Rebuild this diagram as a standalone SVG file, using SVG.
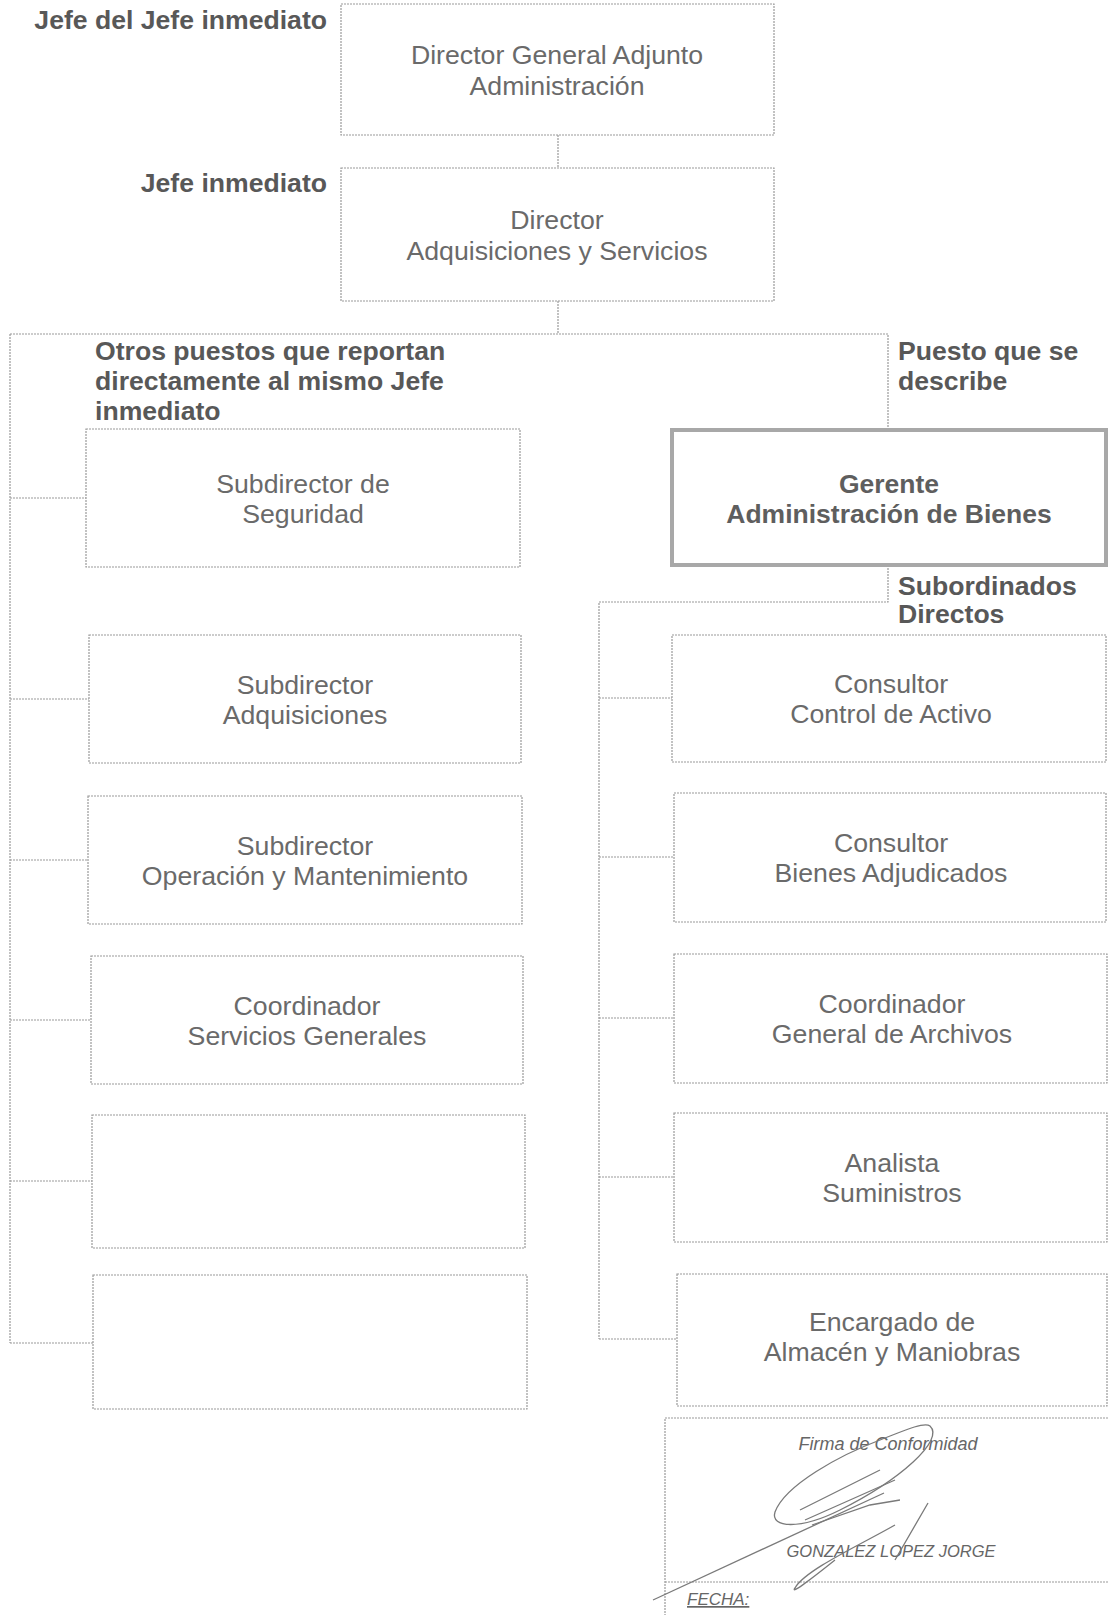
<svg xmlns="http://www.w3.org/2000/svg" width="1109" height="1615" viewBox="0 0 1109 1615">
<style>
.bx{fill:#fff;stroke:#9a9a9a;stroke-width:1.2;stroke-dasharray:2 1}
.bxm{fill:#fff;stroke:#a8a8a8;stroke-width:4}
.t{font-family:"Liberation Sans",Arial,sans-serif;font-size:26.7px;fill:#6a6a6a;text-anchor:middle}
.tb{font-family:"Liberation Sans",Arial,sans-serif;font-size:26.5px;font-weight:bold;fill:#5e5e5e;text-anchor:middle}
.lb{font-family:"Liberation Sans",Arial,sans-serif;font-size:26.6px;font-weight:bold;fill:#585858}
.cn{fill:none;stroke:#9a9a9a;stroke-width:1.2;stroke-dasharray:2 1}
.sg{fill:none;stroke:#7a7a7a;stroke-width:1.3}
.si{font-family:"Liberation Sans",Arial,sans-serif;font-style:italic;fill:#666}
</style>
<rect width="1109" height="1615" fill="#fff"/>

<g id="connectors">
<line class="cn" x1="558" y1="135" x2="558" y2="168"/>
<line class="cn" x1="558" y1="301" x2="558" y2="334"/>
<polyline class="cn" points="10,334 888,334 888,430"/>
<line class="cn" x1="10" y1="334" x2="10" y2="1343"/>
<line class="cn" x1="10" y1="498" x2="86" y2="498"/>
<line class="cn" x1="10" y1="699" x2="89" y2="699"/>
<line class="cn" x1="10" y1="860" x2="89" y2="860"/>
<line class="cn" x1="10" y1="1020" x2="91" y2="1020"/>
<line class="cn" x1="10" y1="1181" x2="92" y2="1181"/>
<line class="cn" x1="10" y1="1343" x2="93" y2="1343"/>
<polyline class="cn" points="888,565 888,602 599,602 599,1339"/>
<line class="cn" x1="599" y1="698" x2="672" y2="698"/>
<line class="cn" x1="599" y1="857" x2="674" y2="857"/>
<line class="cn" x1="599" y1="1018" x2="674" y2="1018"/>
<line class="cn" x1="599" y1="1177" x2="674" y2="1177"/>
<line class="cn" x1="599" y1="1339" x2="677" y2="1339"/>
</g>

<text class="lb" x="327" y="29" text-anchor="end">Jefe del Jefe inmediato</text>
<text class="lb" x="327" y="192" text-anchor="end">Jefe inmediato</text>
<text class="lb" x="95" y="360">Otros puestos que reportan</text>
<text class="lb" x="95" y="390">directamente al mismo Jefe</text>
<text class="lb" x="95" y="420">inmediato</text>
<text class="lb" x="898" y="360">Puesto que se</text>
<text class="lb" x="898" y="390">describe</text>
<text class="lb" x="898" y="595">Subordinados</text>
<text class="lb" x="898" y="623">Directos</text>

<g id="n-dga">
<rect class="bx" x="341" y="4" width="433" height="131"/>
<text class="t" x="557" y="64">Director General Adjunto</text>
<text class="t" x="557" y="95">Administración</text>
</g>
<g id="n-dir">
<rect class="bx" x="341" y="168" width="433" height="133"/>
<text class="t" x="557" y="229">Director</text>
<text class="t" x="557" y="260">Adquisiciones y Servicios</text>
</g>

<g id="n-l1">
<rect class="bx" x="86" y="429" width="434" height="138"/>
<text class="t" x="303" y="493">Subdirector de</text>
<text class="t" x="303" y="523">Seguridad</text>
</g>
<g id="n-l2">
<rect class="bx" x="89" y="635" width="432" height="128"/>
<text class="t" x="305" y="694">Subdirector</text>
<text class="t" x="305" y="724">Adquisiciones</text>
</g>
<g id="n-l3">
<rect class="bx" x="88" y="796" width="434" height="128"/>
<text class="t" x="305" y="855">Subdirector</text>
<text class="t" x="305" y="885">Operación y Mantenimiento</text>
</g>
<g id="n-l4">
<rect class="bx" x="91" y="956" width="432" height="128"/>
<text class="t" x="307" y="1015">Coordinador</text>
<text class="t" x="307" y="1045">Servicios Generales</text>
</g>
<g id="n-l5">
<rect class="bx" x="92" y="1115" width="433" height="133"/>
</g>
<g id="n-l6">
<rect class="bx" x="93" y="1275" width="434" height="134"/>
</g>

<g id="n-ger">
<rect class="bxm" x="672" y="430" width="434" height="135"/>
<text class="tb" x="889" y="493">Gerente</text>
<text class="tb" x="889" y="523">Administración de Bienes</text>
</g>

<g id="n-r1">
<rect class="bx" x="672" y="635" width="434" height="127"/>
<text class="t" x="891" y="693">Consultor</text>
<text class="t" x="891" y="723">Control de Activo</text>
</g>
<g id="n-r2">
<rect class="bx" x="674" y="793" width="432" height="129"/>
<text class="t" x="891" y="852">Consultor</text>
<text class="t" x="891" y="882">Bienes Adjudicados</text>
</g>
<g id="n-r3">
<rect class="bx" x="674" y="954" width="433" height="129"/>
<text class="t" x="892" y="1013">Coordinador</text>
<text class="t" x="892" y="1043">General de Archivos</text>
</g>
<g id="n-r4">
<rect class="bx" x="674" y="1113" width="433" height="129"/>
<text class="t" x="892" y="1172">Analista</text>
<text class="t" x="892" y="1202">Suministros</text>
</g>
<g id="n-r5">
<rect class="bx" x="677" y="1274" width="430" height="132"/>
<text class="t" x="892" y="1331">Encargado de</text>
<text class="t" x="892" y="1361">Almacén y Maniobras</text>
</g>

<g id="firma">
<rect class="bx" x="665" y="1418" width="450" height="210"/>
<line class="cn" x1="665" y1="1582" x2="1109" y2="1582"/>
<text class="si" x="888" y="1450" font-size="18" text-anchor="middle">Firma de Conformidad</text>
<text class="si" x="891" y="1557" font-size="16.5" text-anchor="middle">GONZALEZ LOPEZ JORGE</text>
<text class="si" x="687" y="1605" font-size="17" font-style="normal" text-decoration="underline">FECHA:</text>
<path class="sg" d="M653,1600 L884,1493"/>
<path class="sg" d="M930,1426 C945,1440 900,1480 840,1510 C800,1530 770,1528 775,1512 C785,1485 840,1455 880,1440 C910,1428 925,1422 930,1426"/>
<path class="sg" d="M800,1510 L880,1470 M805,1520 L895,1480 M812,1525 L870,1505 L900,1500"/>
<path class="sg" d="M928,1503 L895,1560 M835,1560 C810,1580 790,1595 795,1588 C805,1570 860,1545 895,1525"/>
</g>
</svg>
